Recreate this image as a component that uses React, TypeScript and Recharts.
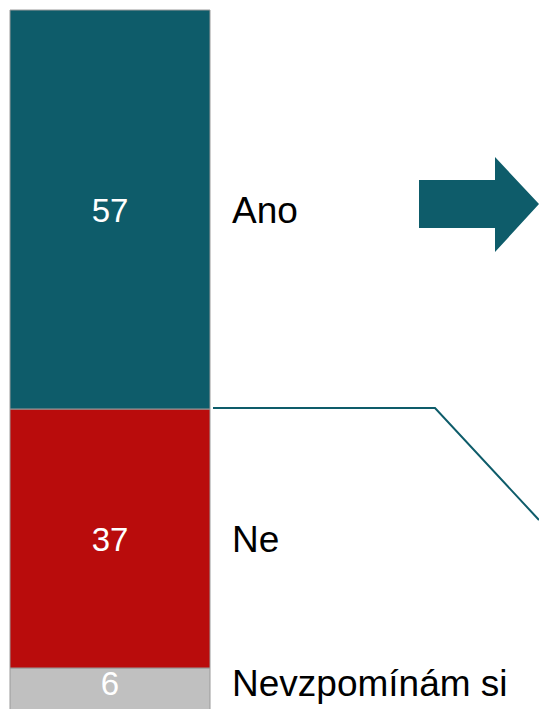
import React from 'react';
import { BarChart, Bar, XAxis, YAxis, LabelList } from 'recharts';

const categories = ['Ano', 'Ne', 'Nevzpomínám si'];
const values = [57, 37, 6];
const seriesKeys = ['ano', 'ne', 'nev'];
const colors = ['#0e5c6a', '#b90c0c', '#c0c0c0'];

const row: Record<string, any> = { name: 'all' };
seriesKeys.forEach((k, i) => {
  row[k] = values[i];
});
const data = [row];

const FONT = '"Liberation Sans", Arial, sans-serif';
// small vertical nudge for the clipped last segment's labels
const labelShift = [0, 0, -6];

const makeNameLabel = (idx: number) => (props: any) => {
  const { x, y, width, height } = props;
  const cy = Number(y) + Number(height) / 2;
  const rx = Number(x) + Number(width);
  const bottom = Number(y) + Number(height);
  return (
    <g>
      <text
        x={rx + 22}
        y={cy + labelShift[idx]}
        dy={13}
        fontSize={37}
        fontFamily={FONT}
        fill="#000"
      >
        {categories[idx]}
      </text>
      {idx === 0 && (
        <path
          d={`M${rx + 3},${bottom - 1} L435,${bottom - 1} L539,${bottom + 111}`}
          stroke="#0e5c6a"
          strokeWidth={2}
          fill="none"
        />
      )}
    </g>
  );
};

const makeValueLabel = (idx: number) => (props: any) => {
  const { x, y, width, height } = props;
  const cx = Number(x) + Number(width) / 2;
  const cy = Number(y) + Number(height) / 2;
  return (
    <text
      x={cx}
      y={cy + labelShift[idx]}
      dy={12}
      textAnchor="middle"
      fontSize={33}
      fontFamily={FONT}
      fill="#fff"
    >
      {values[idx]}
    </text>
  );
};

export default function App() {
  // render bottom-first so that the first category sits on top
  const order = [2, 1, 0];
  return (
    <div
      style={{
        position: 'fixed',
        left: 0,
        top: 0,
        width: 539,
        height: 709,
        overflow: 'hidden',
        background: '#fff',
      }}
    >
      <svg
        width={539}
        height={709}
        style={{ position: 'absolute', left: 0, top: 0 }}
      >
        <polygon
          points="419,180 495,180 495,157 539,204 495,252 495,228 419,228"
          fill="#0e5c6a"
        />
      </svg>
      <div style={{ position: 'absolute', left: 0, top: 0 }}>
        <BarChart
          width={539}
          height={712}
          data={data}
          margin={{ top: 10, right: 329, bottom: 2, left: 10 }}
          barCategoryGap={0}
          barGap={0}
        >
          <XAxis dataKey="name" hide />
          <YAxis hide domain={[0, 100]} type="number" />
          {order.map((i) => (
            <Bar
              key={seriesKeys[i]}
              dataKey={seriesKeys[i]}
              stackId="s"
              fill={colors[i]}
              stroke="#9a9a9a"
              strokeWidth={1}
              isAnimationActive={false}
            >
              <LabelList dataKey={seriesKeys[i]} content={makeValueLabel(i)} />
              <LabelList dataKey={seriesKeys[i]} content={makeNameLabel(i)} />
            </Bar>
          ))}
        </BarChart>
      </div>
    </div>
  );
}
